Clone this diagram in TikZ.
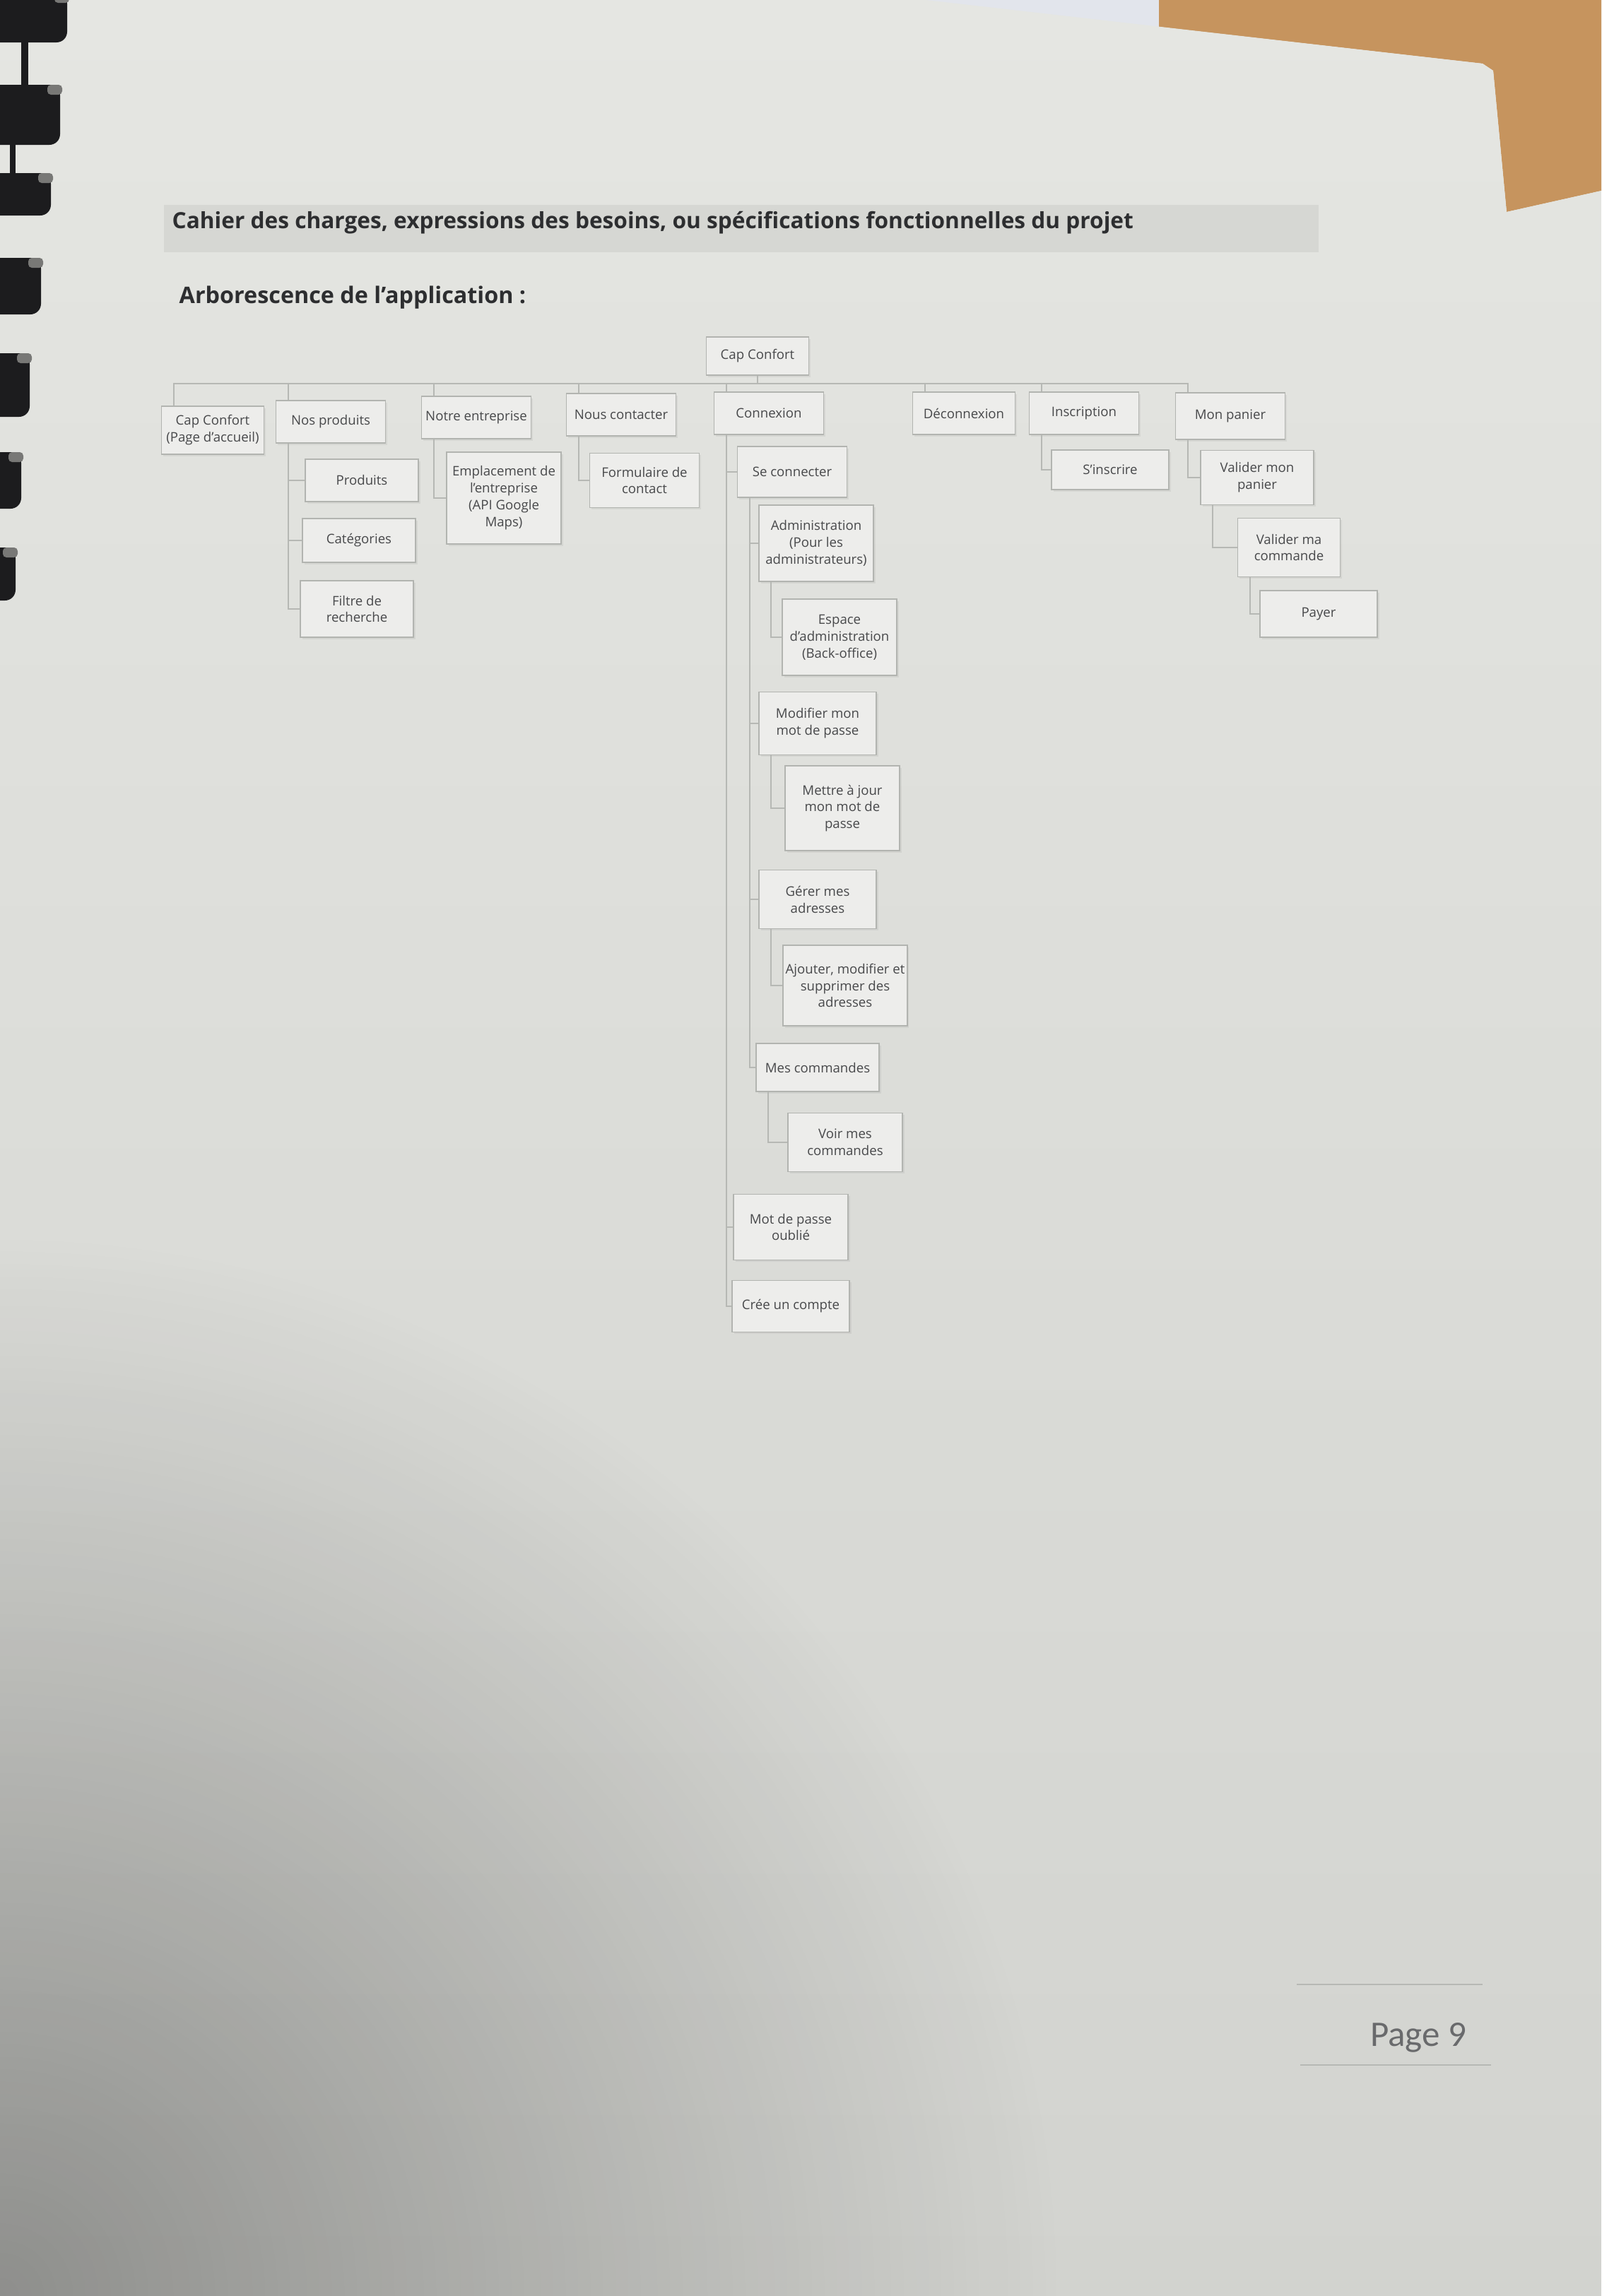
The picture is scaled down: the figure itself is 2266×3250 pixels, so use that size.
\documentclass[tikz,border=0pt]{standalone}
\usepackage{fontspec}
\setmainfont{Open Sans}
\newfontfamily\calibri{Carlito}
\usetikzlibrary{fadings,shadows}

\definecolor{desk}{RGB}{198,148,94}
\definecolor{sheet}{RGB}{226,229,236}
\definecolor{paper}{RGB}{229,230,226}
\definecolor{paperlow}{RGB}{210,211,207}
\definecolor{titlebar}{RGB}{214,215,211}
\definecolor{ink}{RGB}{45,46,48}
\definecolor{boxink}{RGB}{72,73,75}
\definecolor{boxline}{RGB}{178,180,176}
\definecolor{linkgrey}{RGB}{182,184,180}
\definecolor{ring}{RGB}{28,28,30}
\definecolor{ringtip}{RGB}{120,120,118}
\definecolor{pagegrey}{RGB}{105,106,108}

\tikzfading[name=cornerfade, inner color=transparent!0, outer color=transparent!100]

\tikzset{
  box/.style={draw=boxline, fill=paper!70!white, text=boxink, align=center, inner sep=1pt,
    minimum width=15.5mm, minimum height=6mm, line width=0.45pt,
    font=\fontsize{5.3}{6.8}\selectfont,
    drop shadow={shadow xshift=0.25mm, shadow yshift=-0.25mm, opacity=0.12}},
  link/.style={draw=linkgrey, line width=0.5pt},
}

\begin{document}
\begin{tikzpicture}[x=0.1mm, y=-0.1mm]
 \useasboundingbox (0,0) rectangle (2266,3250);
 \begin{scope}
  \clip (0,0) rectangle (2266,3250);
  \fill[paper] (0,0) rectangle (2266,3250);
  \fill[sheet] (1300,0) -- (1640,0) -- (1640,40) -- (1300,10) -- cycle;
  \fill[desk] (1640,0) -- (2266,0) -- (2266,270) -- (2132,300) -- (2113,100) -- (2098,90) -- (1640,38) -- cycle;
  \shade[top color=paper, bottom color=paperlow]
    (0,0) -- (1310,0) -- (2098,90) -- (2113,100) -- (2132,300) -- (2266,270) -- (2266,3250) -- (0,3250) -- cycle;
  \fill[black, fill opacity=0.32, path fading=cornerfade] (0,3250) ellipse (1500 and 1500);
  % binding
  \foreach \y/\h/\w in {-10/70/95, 120/85/85, 245/60/72, 365/80/58, 500/90/42, 640/80/30, 775/75/22}{
   \fill[ring, rounded corners=1.5mm] (-30,\y) rectangle (\w,\y+\h);
   \fill[ringtip, rounded corners=0.5mm] (\w-18,\y) rectangle (\w+3,\y+14);
  }
  \fill[ring] (30,60) rectangle (40,120);
  \fill[ring] (14,205) rectangle (22,245);
 \end{scope}

 \fill[titlebar] (232,290) rectangle (1866,357);
 \node[anchor=west, inner sep=0, text=ink, font=\bfseries\fontsize{9}{11}\selectfont] (titre) at (243,315)
   {Cahier des charges, expressions des besoins, ou spécifications fonctionnelles du projet};
 \node[anchor=west, inner sep=0, text=ink, font=\bfseries\fontsize{9.2}{11}\selectfont] (arbo) at (253,421)
   {Arborescence de l'application :};

 % tree
 \node[box, minimum width=14.5mm, minimum height=5.4mm] (root) at (1072,504) {Cap Confort};
 \coordinate (hub) at (1072,543);

 \node[box, minimum width=14.5mm, minimum height=6.8mm] (capA) at (301,609) {Cap Confort\\(Page d'accueil)};
 \node[box] (prod) at (468,597) {Nos produits};
 \node[box] (entr) at (674,591) {Notre entreprise};
 \node[box] (cont) at (879,587) {Nous contacter};
 \node[box] (conn) at (1088,585) {Connexion};
 \node[box, minimum width=14.5mm] (deco) at (1364,585) {Déconnexion};
 \node[box] (insc) at (1534,585) {Inscription};
 \node[box, minimum height=6.6mm] (pan) at (1741,589) {Mon panier};

 \node[box, minimum width=16mm] (produits) at (512,680) {Produits};
 \node[box, minimum width=16mm, minimum height=6.2mm] (categ) at (508,765) {Catégories};
 \node[box, minimum width=16mm, minimum height=8mm] (filtre) at (505,862) {Filtre de\\recherche};
 \node[box, minimum width=16.2mm, minimum height=13mm] (empl) at (713,705) {Emplacement de\\l'entreprise\\(API Google\\Maps)};
 \node[box, minimum height=7.7mm] (form) at (912,680) {Formulaire de\\contact};

 \node[box, minimum height=7.2mm] (secon) at (1121,668) {Se connecter};
 \node[box, minimum width=16.2mm, minimum height=10.8mm] (admin) at (1155,769) {Administration\\(Pour les\\administrateurs)};
 \node[box, minimum width=16.2mm, minimum height=10.8mm] (espace) at (1188,902) {Espace\\d'administration\\(Back-office)};
 \node[box, minimum width=16.6mm, minimum height=8.9mm] (modif) at (1157,1024) {Modifier mon\\mot de passe};
 \node[box, minimum width=16.2mm, minimum height=12mm] (mettre) at (1192,1144) {Mettre à jour\\mon mot de\\passe};
 \node[box, minimum width=16.6mm, minimum height=8.3mm] (gerer) at (1157,1273) {Gérer mes\\adresses};
 \node[box, minimum width=16.2mm, minimum height=11.4mm] (ajout) at (1196,1395) {Ajouter, modifier et\\supprimer des\\adresses};
 \node[box, minimum width=17.4mm, minimum height=6.8mm] (mescmd) at (1157,1511) {Mes commandes};
 \node[box, minimum width=16.2mm, minimum height=8.3mm] (voir) at (1196,1617) {Voir mes\\commandes};
 \node[box, minimum width=16.2mm, minimum height=9.3mm] (oubli) at (1119,1737) {Mot de passe\\oublié};
 \node[box, minimum width=16.6mm, minimum height=7.3mm] (cree) at (1119,1849) {Crée un compte};

 \node[box, minimum width=16.6mm, minimum height=5.6mm] (sinsc) at (1571,665) {S'inscrire};
 \node[box, minimum width=16mm, minimum height=7.7mm] (valpan) at (1779,676) {Valider mon\\panier};
 \node[box, minimum width=14.5mm, minimum height=8.3mm] (valcmd) at (1824,775) {Valider ma\\commande};
 \node[box, minimum width=16.6mm, minimum height=6.6mm] (payer) at (1866,869) {Payer};

 \draw[link] (root) -- (hub);
 \foreach \n in {capA,prod,entr,cont,conn,deco,insc,pan}
  \draw[link] ([xshift=1.8mm]\n.north west) |- (hub);
 \foreach \p/\c in {prod/produits, prod/categ, prod/filtre, entr/empl, cont/form,
   conn/secon, conn/oubli, conn/cree, secon/admin, secon/modif, secon/gerer, secon/mescmd,
   admin/espace, modif/mettre, gerer/ajout, mescmd/voir,
   insc/sinsc, pan/valpan, valpan/valcmd, valcmd/payer}
  \draw[link] ([xshift=1.8mm]\p.south west) |- (\c.west);

 % page footer
 \node[font=\calibri\fontsize{14.5}{16}\selectfont, text=pagegrey, inner sep=0] (pnum) at (2007,2884) {Page 9};
 \draw[linkgrey, line width=0.5pt] (1835,2809) -- (2098,2809);
 \draw[linkgrey, line width=0.5pt] (1840,2923) -- (2110,2923);
\end{tikzpicture}
\end{document}
